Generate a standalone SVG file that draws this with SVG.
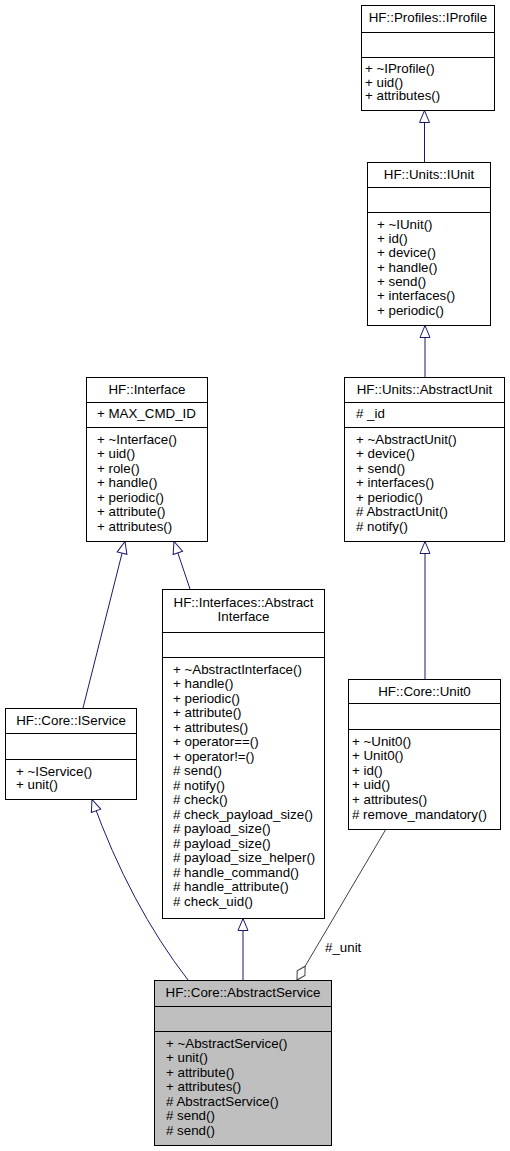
<svg xmlns="http://www.w3.org/2000/svg" width="510" height="1151" viewBox="0 0 510 1151">
<style>
text{font-family:"Liberation Sans",Arial,sans-serif;font-size:13.33px;fill:#000}
.t{text-anchor:middle}
.box{fill:#fff;stroke:#000;stroke-width:1}
.cur{fill:#bfbfbf;stroke:#000;stroke-width:1}
.div{stroke:#000;stroke-width:1}
.inh{fill:none;stroke:#191970;stroke-width:1;marker-end:url(#tri)}
.agg{fill:none;stroke:#404040;stroke-width:1;marker-end:url(#dia)}
</style>
<defs>
<marker id="tri" markerUnits="userSpaceOnUse" markerWidth="14" markerHeight="12" viewBox="-1 -1 14 12" refX="12" refY="5" orient="auto"><path d="M0,0 L12,5 L0,10 Z" fill="#fff" stroke="#191970" stroke-width="1"/></marker>
<marker id="dia" markerUnits="userSpaceOnUse" markerWidth="18" markerHeight="12" viewBox="-1 -1 18 12" refX="16" refY="5" orient="auto"><path d="M0,5 L8,0.5 L16,5 L8,9.5 Z" fill="#fff" stroke="#404040" stroke-width="1"/></marker>
</defs>
<rect width="510" height="1151" fill="#fff"/>
<g id="connectors">
<path class="inh" d="M424.5,162 L424.5,110.5"/>
<path class="inh" d="M425,377 L425,325.5"/>
<path class="inh" d="M425,679 L425,541.5"/>
<path class="inh" d="M83,708 L125,541.5"/>
<path class="inh" d="M190,589 L174,541.5"/>
<path class="inh" d="M188,980 Q130,905 92,799.5"/>
<path class="inh" d="M243,980 L243,918.5"/>
<path class="agg" d="M386,829 L297,980"/>
<text x="325" y="952">#_unit</text>
</g>
<g id="IProfile">
<rect class="box" x="361.5" y="5.5" width="133" height="105"/>
<line class="div" x1="361.5" y1="32.5" x2="494.5" y2="32.5"/>
<line class="div" x1="361.5" y1="57.5" x2="494.5" y2="57.5"/>
<text class="t" x="428" y="22">HF::Profiles::IProfile</text>
<text x="365" y="73">+ ~IProfile()</text>
<text x="365" y="86.5">+ uid()</text>
<text x="365" y="100">+ attributes()</text>
</g>
<g id="IUnit">
<rect class="box" x="367.5" y="162.5" width="123" height="163"/>
<line class="div" x1="367.5" y1="187.5" x2="490.5" y2="187.5"/>
<line class="div" x1="367.5" y1="212.5" x2="490.5" y2="212.5"/>
<text class="t" x="429" y="179">HF::Units::IUnit</text>
<text x="377" y="228.5">+ ~IUnit()</text>
<text x="377" y="242.8">+ id()</text>
<text x="377" y="257.2">+ device()</text>
<text x="377" y="271.5">+ handle()</text>
<text x="377" y="285.8">+ send()</text>
<text x="377" y="300.2">+ interfaces()</text>
<text x="377" y="314.5">+ periodic()</text>
</g>
<g id="Interface">
<rect class="box" x="86.5" y="377.5" width="121" height="164"/>
<line class="div" x1="86.5" y1="402.5" x2="207.5" y2="402.5"/>
<line class="div" x1="86.5" y1="427.5" x2="207.5" y2="427.5"/>
<text class="t" x="147" y="394">HF::Interface</text>
<text x="97" y="418">+ MAX_CMD_ID</text>
<text x="97" y="443.5">+ ~Interface()</text>
<text x="97" y="458">+ uid()</text>
<text x="97" y="472.5">+ role()</text>
<text x="97" y="487">+ handle()</text>
<text x="97" y="501.5">+ periodic()</text>
<text x="97" y="516">+ attribute()</text>
<text x="97" y="530.5">+ attributes()</text>
</g>
<g id="AbstractUnit">
<rect class="box" x="344.5" y="377.5" width="160" height="164"/>
<line class="div" x1="344.5" y1="402.5" x2="504.5" y2="402.5"/>
<line class="div" x1="344.5" y1="427.5" x2="504.5" y2="427.5"/>
<text class="t" x="424.5" y="394">HF::Units::AbstractUnit</text>
<text x="356" y="418"># _id</text>
<text x="356" y="443.5">+ ~AbstractUnit()</text>
<text x="356" y="458">+ device()</text>
<text x="356" y="472.5">+ send()</text>
<text x="356" y="487">+ interfaces()</text>
<text x="356" y="501.5">+ periodic()</text>
<text x="356" y="516"># AbstractUnit()</text>
<text x="356" y="530.5"># notify()</text>
</g>
<g id="AbstractInterface">
<rect class="box" x="162.5" y="589.5" width="162" height="329"/>
<line class="div" x1="162.5" y1="632.5" x2="324.5" y2="632.5"/>
<line class="div" x1="162.5" y1="657.5" x2="324.5" y2="657.5"/>
<text class="t" x="243.5" y="607">HF::Interfaces::Abstract</text>
<text class="t" x="243.5" y="621">Interface</text>
<text x="173" y="673.5">+ ~AbstractInterface()</text>
<text x="173" y="688">+ handle()</text>
<text x="173" y="702.5">+ periodic()</text>
<text x="173" y="717">+ attribute()</text>
<text x="173" y="731.5">+ attributes()</text>
<text x="173" y="746">+ operator==()</text>
<text x="173" y="760.5">+ operator!=()</text>
<text x="173" y="775"># send()</text>
<text x="173" y="789.5"># notify()</text>
<text x="173" y="804"># check()</text>
<text x="173" y="818.5"># check_payload_size()</text>
<text x="173" y="833"># payload_size()</text>
<text x="173" y="847.5"># payload_size()</text>
<text x="173" y="862"># payload_size_helper()</text>
<text x="173" y="876.5"># handle_command()</text>
<text x="173" y="891"># handle_attribute()</text>
<text x="173" y="905.5"># check_uid()</text>
</g>
<g id="Unit0">
<rect class="box" x="348.5" y="679.5" width="152" height="150"/>
<line class="div" x1="348.5" y1="703.5" x2="500.5" y2="703.5"/>
<line class="div" x1="348.5" y1="729.5" x2="500.5" y2="729.5"/>
<text class="t" x="424.5" y="696">HF::Core::Unit0</text>
<text x="352" y="745.5">+ ~Unit0()</text>
<text x="352" y="760.1">+ Unit0()</text>
<text x="352" y="774.7">+ id()</text>
<text x="352" y="789.3">+ uid()</text>
<text x="352" y="803.9">+ attributes()</text>
<text x="352" y="818.5"># remove_mandatory()</text>
</g>
<g id="IService">
<rect class="box" x="5.5" y="708.5" width="131" height="91"/>
<line class="div" x1="5.5" y1="733.5" x2="136.5" y2="733.5"/>
<line class="div" x1="5.5" y1="759.5" x2="136.5" y2="759.5"/>
<text class="t" x="71" y="725">HF::Core::IService</text>
<text x="16" y="775.5">+ ~IService()</text>
<text x="16" y="789">+ unit()</text>
</g>
<g id="AbstractService">
<rect class="cur" x="154.5" y="980.5" width="177" height="165"/>
<line class="div" x1="154.5" y1="1006.5" x2="331.5" y2="1006.5"/>
<line class="div" x1="154.5" y1="1031.5" x2="331.5" y2="1031.5"/>
<text class="t" x="243" y="997">HF::Core::AbstractService</text>
<text x="166" y="1047.5">+ ~AbstractService()</text>
<text x="166" y="1062">+ unit()</text>
<text x="166" y="1076.5">+ attribute()</text>
<text x="166" y="1091">+ attributes()</text>
<text x="166" y="1105.5"># AbstractService()</text>
<text x="166" y="1120"># send()</text>
<text x="166" y="1134.5"># send()</text>
</g>
</svg>
